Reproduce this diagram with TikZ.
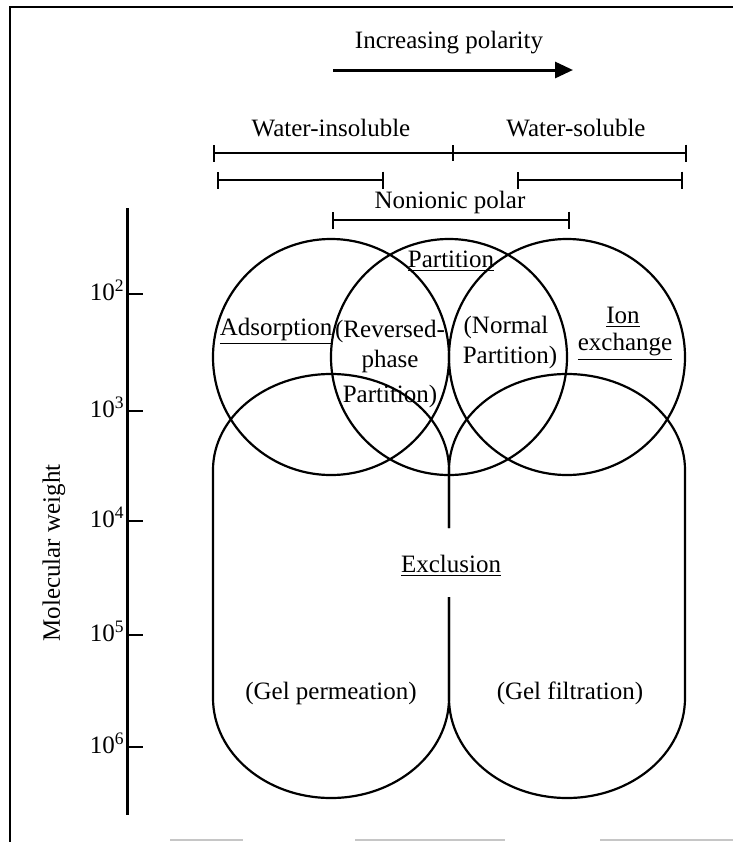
\documentclass[tikz,border=0pt]{standalone}
\usepackage{fontspec}
\setmainfont{Liberation Serif}
\usetikzlibrary{arrows.meta}

\begin{document}
\begin{tikzpicture}[x=0.5pt,y=-0.5pt,
	lbl/.style={font=\fontsize{12.5}{15}\selectfont, inner sep=0pt},
	ring/.style={line width=1.1pt},
	span/.style={line width=1.1pt, {Bar[width=8.5pt]}-{Bar[width=8.5pt]}}]
	\useasboundingbox (0,0) rectangle (733,842);
	% frame
	\draw[line width=1.1pt] (10,842) -- (10,7) -- (733,7);
	\draw[gray!45, line width=1pt] (170,840) -- (243,840) (355,840) -- (505,840) (600,840) -- (733,840);
	% polarity arrow
	\node[lbl] (pol) at (449,43) {Increasing polarity};
	\coordinate (pol w) at (333,70);
	\coordinate (pol e) at (573,70);
	\draw[line width=1.5pt, -{Triangle[length=9pt,width=8pt]}] (pol w) -- (pol e);
	% solubility ranges
	\node[lbl] (insol) at (331,128) {Water-insoluble};
	\node[lbl] (sol) at (576,128) {Water-soluble};
	\draw[span] (213,153) -- (687,153);
	\draw[line width=1.1pt] (453,145) -- (453,161);
	\draw[span] (217,180) -- (384,180);
	\draw[span] (517,180) -- (683,180);
	\node[lbl] (nonion) at (450,202) {Nonionic polar};
	\draw[span] (332,220) -- (570,220);
	% molecular weight axis
	\draw[line width=1.5pt] (127,208) -- (127,815);
	\foreach \e/\y in {2/294,3/411,4/521,5/635,6/747} {
		\draw[line width=1.1pt] (127,\y) -- (143,\y);
		\node[lbl, anchor=base east] (mw\e) at (125,\y+6) {10\textsuperscript{\e}};
	}
	\node[lbl, rotate=90] (mw) at (54,553) {Molecular weight};
	% upper circles
	\draw[ring] (331,357) circle[radius=118];
	\draw[ring] (449,357) circle[radius=118];
	\draw[ring] (567,357) circle[radius=118];
	% exclusion shapes
	\draw[ring] (449,528) -- (449,470) arc[start angle=0, end angle=-180, x radius=118, y radius=96]
		-- (213,698) arc[start angle=180, end angle=0, x radius=118, y radius=100] -- (449,597);
	\draw[ring] (449,528) -- (449,470) arc[start angle=180, end angle=360, x radius=118, y radius=96]
		-- (685,698) arc[start angle=0, end angle=180, x radius=118, y radius=100] -- (449,597);
	% labels
	\node[lbl] (ads) at (276,331) {\underline{Adsorption}};
	\node[lbl] (rev1) at (390,331) {(Reversed-};
	\node[lbl] (rev2) at (390,361) {phase};
	\node[lbl] (rev3) at (390,396) {Partition)};
	\node[lbl] (part) at (451,261) {\underline{Partition}};
	\node[lbl] (norm1) at (506,327) {(Normal};
	\node[lbl] (norm2) at (510,357) {Partition)};
	\node[lbl] (ion1) at (623,317) {\underline{Ion}};
	\node[lbl] (ion2) at (625,347) {\underline{exchange}};
	\node[lbl] (excl) at (451,566) {\underline{Exclusion}};
	\node[lbl] (gelp) at (331,693) {(Gel permeation)};
	\node[lbl] (gelf) at (570,693) {(Gel filtration)};
\end{tikzpicture}
\end{document}
